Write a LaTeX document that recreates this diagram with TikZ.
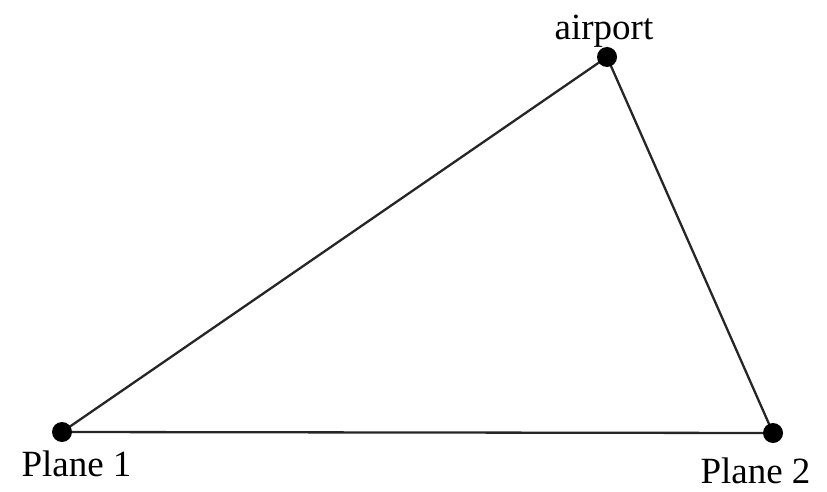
\documentclass[tikz,border=0pt]{standalone}
\usepackage{fontspec}
\setmainfont{Liberation Serif}
\begin{document}
\begin{tikzpicture}[x=1pt,y=1pt,
  dot/.style={circle,fill=black,inner sep=0pt,minimum size=20pt},
  lbl/.style={anchor=base,inner sep=0pt,font=\fontsize{37}{40}\selectfont},
  edge/.style={line width=2.3pt,draw=black!85}]
\useasboundingbox (0,0) rectangle (827,491);
\coordinate (p1) at (62,59);
\coordinate (ap) at (607,434);
\coordinate (p2) at (773,58);
\draw[edge] (p1) -- (ap) -- (p2) -- cycle;
\node[dot] (d1) at (p1) {};
\node[dot] (da) at (ap) {};
\node[dot] (d2) at (p2) {};
\node[lbl] (l1) at (76.5,15) {Plane 1};
\node[lbl] (l2) at (755.5,8) {Plane 2};
\node[lbl] (la) at (604,451) {airport};
\end{tikzpicture}
\end{document}
